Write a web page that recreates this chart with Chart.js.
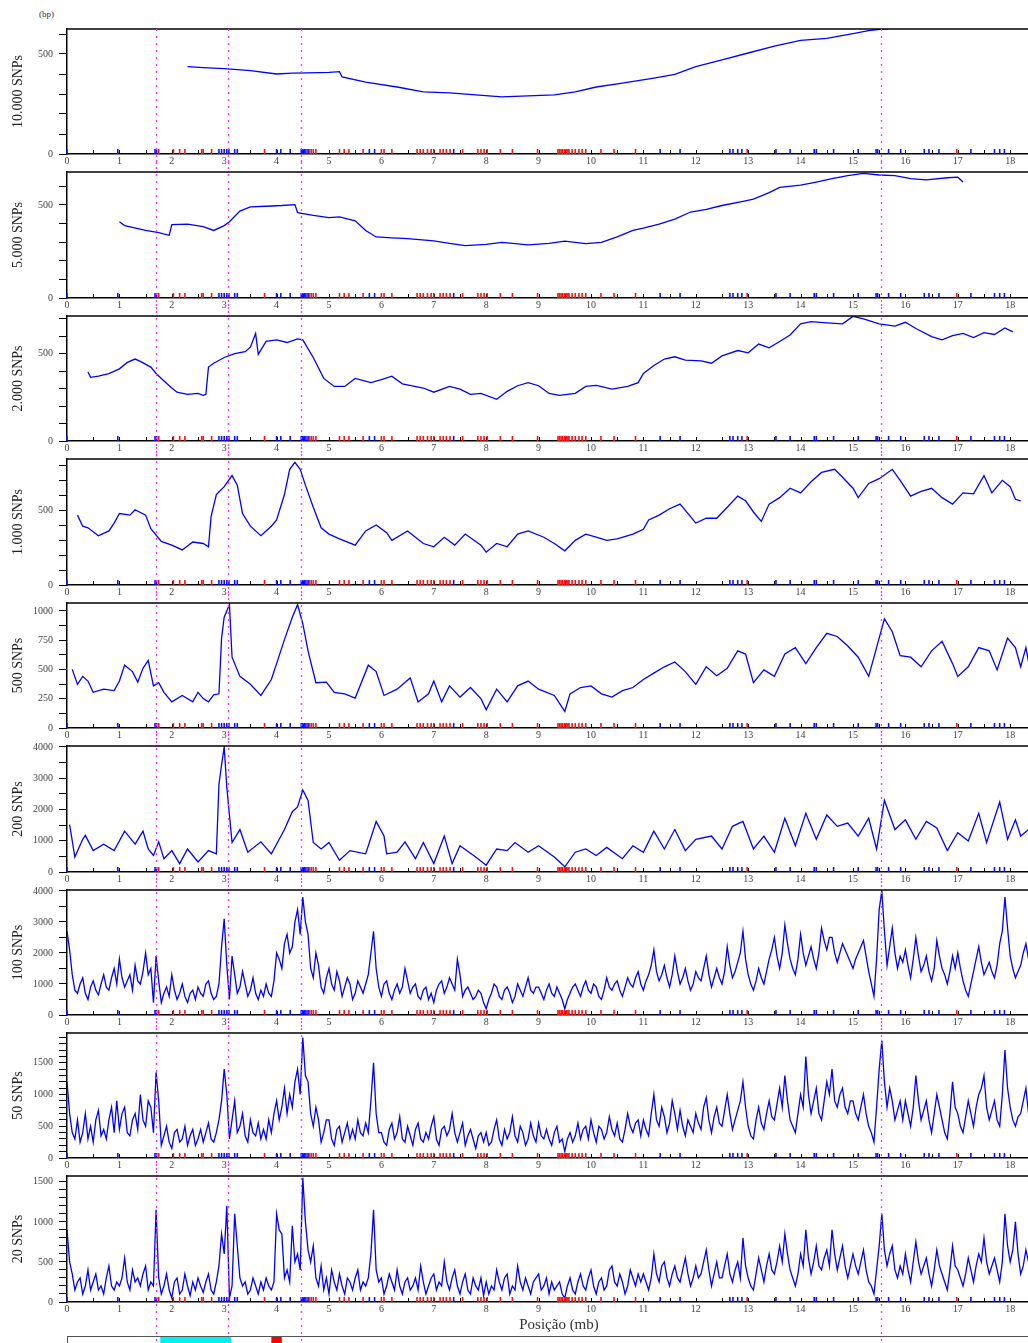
<!DOCTYPE html>
<html>
<head>
<meta charset="utf-8">
<script src="https://cdn.jsdelivr.net/npm/chart.js@4.4.1/dist/chart.umd.min.js"></script>
<style>
  body { margin: 0; background: #fff; width: 1028px; height: 1343px; position: relative; overflow: hidden; }
  .panel { position: absolute; left: 0; width: 1028px; }
  #bp { position: absolute; left: 39px; top: 9px; font: 9px 'Liberation Serif', serif; color: #333; }
</style>
</head>
<body>
<div id="bp">(bp)</div>
<script>
// positions along the chromosome are in mb, values in bp
const panelTitles = ['10.000 SNPs', '5.000 SNPs', '2.000 SNPs', '1.000 SNPs', '500 SNPs', '200 SNPs', '100 SNPs', '50 SNPs', '20 SNPs']
const yMax = [625, 677, 717, 844, 1068, 4030, 4030, 1970, 1573]
const yMinorStep = [100, 100, 100, 100, 125, 500, 500, 100, 100]
const yLabelStep = [500, 500, 500, 500, 250, 1000, 1000, 500, 500]

const xTicks = [0, 1, 2, 3, 4, 5, 6, 7, 8, 9, 10, 11, 12, 13, 14, 15, 16, 17, 18]
const magentaLines = [1.7, 3.08, 4.47, 15.53]
const blueMarks = [0.0, 0.97, 1.68, 1.71, 2.9, 2.95, 3.0, 3.05, 3.09, 3.2, 3.25, 4.0, 4.08, 4.26, 4.47, 4.5, 4.53, 4.56, 4.6,
  5.77, 5.87, 7.38, 11.32, 11.7, 12.65, 12.71, 12.8, 12.88, 13.53, 13.8, 14.26, 14.3, 14.63, 15.1, 15.44, 15.47, 15.68,
  15.91, 16.36, 16.45, 16.64, 17.25, 17.7, 17.8, 17.89]
const redMarks = [1.75, 2.03, 2.15, 2.25, 2.57, 2.6, 2.76, 3.77, 4.62, 4.66, 4.7, 4.75, 5.2, 5.29, 5.38, 5.65, 6.0, 6.05,
  6.2, 6.68, 6.74, 6.8, 6.88, 6.95, 7.0, 7.12, 7.18, 7.24, 7.31, 7.55, 7.84, 7.9, 7.96, 8.02, 8.27, 8.5, 8.98, 9.37, 9.4,
  9.43, 9.46, 9.5, 9.53, 9.56, 9.58, 9.64, 9.7, 9.77, 9.83, 9.9, 10.19, 10.44, 10.85, 12.98, 16.98]
const cyanBand = [1.78, 3.13]
const redBand = [3.9, 4.1]

// windows of 10.000 .. 200 SNPs: [position, bp]
const bp10000 = [[2.3,437],[2.6,432],[3.0,427],[3.5,417],[4.0,400],[4.3,404],[4.6,406],[5.0,408],[5.2,412],[5.25,385],
  [5.7,359],[6.3,335],[6.8,311],[7.3,306],[7.8,296],[8.3,286],[8.8,291],[9.3,296],[9.7,311],[10.1,335],[10.6,354],
  [11.2,379],[11.6,398],[12.0,437],[12.5,471],[13.0,505],[13.5,539],[14.0,568],[14.5,578],[15.0,602],[15.3,617],
  [15.6,626],[15.67,626]]
const bp5000 = [[1.0,410],[1.1,389],[1.5,363],[1.75,351],[1.95,337],[2.0,394],[2.3,397],[2.6,384],[2.8,363],[3.0,389],
  [3.1,410],[3.3,467],[3.5,490],[3.8,493],[4.1,497],[4.35,502],[4.4,458],[4.7,444],[5.0,432],[5.2,436],[5.5,415],
  [5.7,363],[5.9,328],[6.2,323],[6.5,319],[7.0,307],[7.3,293],[7.6,281],[8.0,288],[8.3,299],[8.8,285],[9.2,293],
  [9.5,306],[9.9,292],[10.2,299],[10.5,328],[10.8,363],[11.0,375],[11.3,397],[11.6,424],[11.9,462],[12.2,476],
  [12.5,497],[12.9,519],[13.1,531],[13.4,566],[13.6,594],[14.0,606],[14.3,623],[14.6,641],[14.9,658],[15.2,670],
  [15.5,661],[15.8,658],[16.1,641],[16.4,635],[16.8,646],[17.0,649],[17.1,623]]
const bp2000 = [[0.4,396],[0.45,365],[0.6,372],[0.8,387],[1.0,414],[1.15,451],[1.3,470],[1.4,457],[1.6,424],[1.7,387],
  [1.8,359],[2.0,304],[2.1,280],[2.3,267],[2.5,273],[2.6,262],[2.65,267],[2.7,424],[2.8,446],[3.0,479],[3.2,501],
  [3.4,512],[3.5,538],[3.6,617],[3.65,497],[3.8,571],[4.0,580],[4.2,565],[4.4,586],[4.5,580],[4.7,479],[4.9,359],
  [5.1,313],[5.3,313],[5.5,359],[5.8,335],[6.0,352],[6.2,372],[6.4,328],[6.8,304],[7.0,280],[7.3,313],[7.5,298],
  [7.7,267],[7.9,273],[8.2,239],[8.4,285],[8.6,317],[8.8,335],[9.0,317],[9.2,273],[9.4,262],[9.7,273],[9.9,313],
  [10.1,319],[10.4,298],[10.7,313],[10.9,335],[11.0,387],[11.2,433],[11.4,470],[11.6,483],[11.8,464],[12.1,460],
  [12.3,446],[12.5,488],[12.8,519],[13.0,506],[13.2,556],[13.4,534],[13.6,571],[13.8,608],[14.0,672],[14.2,685],
  [14.5,678],[14.8,672],[15.0,715],[15.2,700],[15.5,672],[15.8,659],[16.0,681],[16.2,645],[16.5,599],[16.7,580],
  [16.9,604],[17.1,617],[17.3,593],[17.5,622],[17.7,611],[17.9,648],[18.05,626]]
const bp1000 = [[0.2,468],[0.3,394],[0.4,383],[0.6,330],[0.8,362],[0.9,415],[1.0,479],[1.2,468],[1.3,504],[1.5,468],
  [1.6,377],[1.8,292],[2.0,267],[2.2,235],[2.4,288],[2.6,278],[2.7,256],[2.75,458],[2.85,606],[3.0,659],[3.15,733],
  [3.25,669],[3.35,479],[3.5,394],[3.7,330],[3.9,394],[4.0,436],[4.15,606],[4.25,775],[4.35,822],[4.45,775],[4.55,669],
  [4.7,521],[4.85,383],[5.0,341],[5.2,309],[5.5,267],[5.7,362],[5.9,402],[6.1,351],[6.2,299],[6.5,362],[6.8,278],
  [7.0,256],[7.2,320],[7.4,267],[7.6,341],[7.9,267],[8.0,220],[8.2,278],[8.4,256],[8.6,341],[8.8,362],[9.1,320],
  [9.3,278],[9.5,229],[9.7,299],[9.9,341],[10.1,320],[10.3,299],[10.5,309],[10.8,341],[11.0,373],[11.1,436],
  [11.3,468],[11.5,511],[11.7,542],[11.9,458],[12.0,415],[12.2,447],[12.4,447],[12.6,521],[12.8,595],[12.95,564],
  [13.1,489],[13.25,426],[13.4,542],[13.6,585],[13.8,648],[14.0,617],[14.2,691],[14.4,754],[14.65,775],[14.8,722],
  [15.0,648],[15.1,585],[15.3,680],[15.5,712],[15.75,775],[15.9,701],[16.1,595],[16.3,627],[16.5,648],[16.7,585],
  [16.9,542],[17.1,617],[17.3,610],[17.5,733],[17.65,617],[17.85,701],[18.0,659],[18.1,574],[18.2,564]]
const bp500 = [[0.1,501],[0.2,373],[0.3,441],[0.4,401],[0.5,305],[0.7,332],[0.9,319],[1.0,401],[1.1,537],[1.25,482],
  [1.35,392],[1.45,510],[1.55,578],[1.65,360],[1.75,387],[1.85,305],[2.0,223],[2.2,278],[2.4,223],[2.5,305],[2.6,251],
  [2.7,223],[2.8,283],[2.9,292],[2.95,768],[3.0,946],[3.1,1054],[3.15,605],[3.3,441],[3.5,373],[3.7,278],[3.9,414],
  [4.0,550],[4.15,755],[4.3,946],[4.4,1054],[4.5,891],[4.6,659],[4.75,387],[4.95,392],[5.1,305],[5.3,292],[5.5,256],
  [5.75,537],[5.9,482],[6.05,278],[6.3,332],[6.55,428],[6.7,223],[6.9,292],[7.0,401],[7.15,223],[7.3,360],[7.5,264],
  [7.7,346],[7.9,251],[8.0,155],[8.2,332],[8.4,223],[8.6,360],[8.8,401],[9.0,332],[9.3,278],[9.5,142],[9.6,292],
  [9.8,346],[10.0,360],[10.2,292],[10.4,264],[10.6,319],[10.8,346],[11.0,414],[11.2,469],[11.4,523],[11.6,564],
  [11.8,482],[12.0,373],[12.2,523],[12.4,447],[12.6,510],[12.8,659],[12.95,632],[13.1,387],[13.3,496],[13.5,441],
  [13.7,632],[13.9,687],[14.1,550],[14.3,687],[14.5,809],[14.7,782],[14.9,700],[15.1,605],[15.3,441],[15.45,687],
  [15.6,932],[15.75,823],[15.9,618],[16.1,605],[16.3,523],[16.5,659],[16.7,741],[16.9,550],[17.0,441],[17.2,523],
  [17.4,687],[17.6,659],[17.75,496],[17.95,768],[18.1,687],[18.2,523],[18.3,687],[18.35,564]]
const bp200 = [[0.05,1513],[0.15,477],[0.3,1047],[0.35,1171],[0.5,684],[0.7,891],[0.9,684],[1.1,1306],[1.3,891],
  [1.45,1306],[1.55,736],[1.65,528],[1.75,964],[1.85,425],[2.0,684],[2.15,269],[2.3,736],[2.5,321],[2.7,684],[2.85,580],
  [2.9,2808],[2.95,3430],[3.0,4000],[3.05,2705],[3.15,943],[3.3,1358],[3.45,632],[3.7,964],[3.9,580],[4.05,1047],
  [4.15,1358],[4.3,1927],[4.4,2083],[4.5,2622],[4.6,2290],[4.7,943],[4.85,736],[5.0,943],[5.2,373],[5.4,684],[5.7,580],
  [5.9,1617],[6.05,1150],[6.1,580],[6.3,632],[6.45,964],[6.65,425],[6.8,943],[7.0,269],[7.2,1150],[7.35,269],[7.5,839],
  [7.8,477],[8.0,218],[8.2,736],[8.4,684],[8.55,943],[8.8,632],[9.0,839],[9.3,477],[9.5,166],[9.7,632],[9.9,736],
  [10.1,528],[10.3,788],[10.6,425],[10.8,839],[11.0,632],[11.2,1306],[11.4,736],[11.6,1358],[11.8,684],[12.0,1047],
  [12.3,1150],[12.5,736],[12.7,1461],[12.9,1617],[13.1,736],[13.3,1150],[13.5,632],[13.7,1720],[13.9,839],[14.1,1876],
  [14.3,1047],[14.5,1824],[14.7,1461],[14.9,1565],[15.1,1150],[15.3,1720],[15.45,736],[15.6,2290],[15.8,1358],
  [16.0,1668],[16.2,1047],[16.4,1617],[16.6,1409],[16.8,684],[17.0,1254],[17.2,995],[17.4,1876],[17.55,943],
  [17.8,2238],[17.95,1047],[18.1,1668],[18.2,1150],[18.35,1358]]

// windows of 100, 50 and 20 SNPs: one value every 0.05 mb from 0 (one row per mb)
const stepMb = 0.05
const bp100 = [
  2700,2100,1300,800,700,1000,1200,700,500,900,1100,800,650,1000,1300,900,800,1200,1500,1000,
  1800,1200,900,1100,1300,800,1600,1100,1000,1400,2000,1300,1500,400,1900,1100,400,700,900,600,
  1300,800,500,700,1000,600,400,700,800,500,900,700,600,1000,1100,700,500,600,1000,2200,
  3100,1600,500,1900,1300,700,900,1400,1000,600,800,1200,700,500,800,600,1000,700,600,1100,
  2000,1800,1500,2300,2600,2000,2200,3000,3400,2600,3800,3000,2600,1500,1200,2000,1600,900,700,1200,
  1500,1000,800,1400,1100,600,900,1200,1000,500,700,1100,900,700,1000,1300,2000,2700,1500,900,
  600,1000,1100,700,500,800,1000,700,900,1500,1100,700,900,1000,600,500,800,900,500,700,
  400,800,1000,1100,700,900,1200,1000,800,1800,1300,600,800,900,700,500,600,800,700,400,
  200,500,700,1000,900,600,500,800,900,700,400,600,1000,800,600,900,1200,800,700,900,
  900,700,500,800,1000,700,600,900,700,500,200,500,700,900,1000,800,600,900,1100,800,
  700,1000,900,600,500,800,1200,900,800,1000,1100,800,600,900,1200,1000,900,1200,1400,1000,
  800,1100,1300,1600,2100,1400,1100,1300,1600,1200,900,1300,1900,1400,1000,1200,1500,1100,800,1000,
  1400,1200,1100,1500,1900,1300,900,1200,1500,1200,1000,1400,2200,1600,1200,1400,1700,2000,2700,1800,
  1300,1000,800,1100,1500,1200,1000,1400,1800,2100,2500,1900,1500,2000,2900,2300,1800,1500,1300,1800,
  2600,2000,1600,1900,2200,1800,1500,2000,2800,2400,2100,2500,2500,2000,1700,2000,2300,2100,1900,1700,
  1500,1800,2000,2200,2400,1900,1400,1000,600,1800,3400,4000,2700,1600,2200,2800,2000,1500,1900,1700,
  2100,1600,1200,1800,2500,1900,1400,1600,1900,1400,1100,1500,2400,1900,1500,1300,1000,1400,1900,1500,
  2000,1500,1100,800,600,1000,1400,1800,2200,1700,1300,1500,1700,1400,1200,1600,2300,2700,3800,2800,
  1900,1500,1200,1400,1600,2000,2300,1800]
const bp50 = [
  1200,700,400,300,600,250,400,700,300,500,250,600,750,350,450,300,600,800,400,900,
  450,700,800,400,350,600,700,450,1000,600,500,900,800,400,1350,900,200,350,500,250,
  150,400,450,250,300,500,200,350,450,200,300,450,250,400,550,300,250,400,600,900,
  1400,1000,300,600,900,400,500,700,350,250,600,400,350,550,300,450,300,600,400,700,
  900,600,800,1100,700,1000,800,1200,1400,1000,1900,1300,1200,700,500,800,600,250,400,600,
  600,300,200,450,500,250,400,550,300,450,300,600,400,350,550,400,900,1500,700,400,
  400,250,200,450,550,300,400,650,300,250,500,350,200,450,550,300,250,400,300,500,
  650,300,200,450,500,350,450,700,400,250,400,550,200,350,450,300,150,350,400,250,
  400,200,250,450,600,300,200,450,300,400,650,350,250,500,400,200,300,550,350,250,
  550,350,300,450,300,200,400,500,250,300,100,300,400,250,350,550,300,450,500,300,
  600,400,250,500,450,300,400,650,450,350,550,300,250,450,700,500,400,550,600,350,
  600,450,350,700,1000,600,500,800,650,400,550,900,700,450,750,500,350,600,500,400,
  700,550,450,800,950,600,400,650,800,550,500,750,1000,700,450,600,750,900,1200,800,
  500,350,300,600,800,550,450,700,900,650,600,850,1100,800,1300,900,600,500,400,700,
  1000,800,1600,1000,700,900,1100,700,600,900,1200,1000,1400,900,800,1000,1100,800,700,900,
  900,700,600,800,1000,700,500,400,250,800,1400,1850,1200,800,1100,900,600,750,900,600,
  900,700,500,800,1300,900,600,750,900,600,400,700,1000,800,600,400,300,700,1200,800,
  700,500,400,650,900,700,500,800,1000,1100,1300,800,600,750,900,600,500,1000,1700,1100,
  800,600,500,650,700,900,1100,700]
const bp20 = [
  900,500,350,150,250,300,100,200,400,150,250,350,150,200,100,300,450,200,150,250,
  200,300,550,250,150,400,250,300,200,350,450,150,250,200,1150,300,100,200,350,150,
  50,250,300,100,150,350,200,80,250,150,300,200,120,250,350,150,100,250,450,850,
  600,1200,50,200,1100,700,300,200,250,100,150,300,200,100,250,150,300,200,150,250,
  1100,900,850,300,400,250,950,500,600,400,1550,1000,650,500,700,300,200,450,150,300,
  100,400,250,150,350,200,100,300,250,150,300,400,150,250,200,300,600,1150,400,250,
  300,100,200,350,250,150,400,200,100,250,300,150,200,300,150,450,250,100,200,300,
  350,150,250,200,500,250,150,300,400,200,100,250,350,150,100,300,200,150,300,80,
  250,100,200,150,400,250,150,300,350,100,200,150,450,250,150,300,200,100,250,300,
  350,150,200,300,100,250,150,200,250,100,50,200,300,150,100,250,350,200,150,300,
  400,200,100,250,300,150,200,400,450,250,200,350,250,100,200,400,300,200,350,250,
  350,250,150,300,600,350,250,450,500,300,200,350,450,300,250,400,550,350,200,300,
  450,300,350,500,650,400,200,350,500,300,300,450,600,350,250,400,500,300,800,450,
  300,200,150,350,550,400,250,450,600,400,350,500,700,500,850,600,400,300,200,350,
  600,450,900,550,350,500,700,450,400,550,650,450,900,600,400,550,700,450,300,450,
  600,450,350,500,650,400,250,200,100,400,700,1100,650,450,600,700,400,300,450,350,
  600,400,250,500,750,500,350,450,550,350,200,400,650,450,350,250,150,400,700,450,
  400,300,200,350,550,400,250,450,600,500,800,500,350,450,550,400,250,500,1100,700,
  500,650,1000,600,350,450,650,500]

const pairSeries = [bp10000, bp5000, bp2000, bp1000, bp500, bp200]
const stepSeries = [bp100, bp50, bp20]

// layout of the nine stacked plot areas (pixels)
const plotTop = [25, 168, 312, 455, 599, 742, 886, 1029, 1172]
const plotBottom = [154, 298, 441, 585, 728, 872, 1015, 1158, 1302]
const axisLeft = 67
const padTop = 8

Chart.defaults.font.family = "'Liberation Serif', 'Times New Roman', serif"
Chart.defaults.color = '#444'

function vline(ctx, x, y0, y1) {
  ctx.beginPath()
  ctx.moveTo(x, y0)
  ctx.lineTo(x, y1)
  ctx.stroke()
}

const overlay = {
  id: 'overlay',
  afterDatasetsDraw(chart, args, opts) {
    const { ctx, chartArea: a, scales: { x } } = chart
    ctx.save()
    // top frame line
    ctx.strokeStyle = '#000'
    ctx.lineWidth = 1.5
    ctx.beginPath()
    ctx.moveTo(a.left, a.top)
    ctx.lineTo(a.right, a.top)
    ctx.stroke()
    // small inward ticks every 0.5 mb
    ctx.lineWidth = 1
    for (let i = 1; i * 0.5 < x.max; i++) {
      vline(ctx, Math.round(x.getPixelForValue(i * 0.5)) + 0.5, a.bottom, a.bottom - 4)
    }
    // SNP markers along the axis
    ctx.lineWidth = 1.6
    ctx.strokeStyle = '#ff1010'
    redMarks.forEach(m => vline(ctx, x.getPixelForValue(m), a.bottom, a.bottom - 5))
    ctx.strokeStyle = '#1010ff'
    blueMarks.forEach(m => vline(ctx, x.getPixelForValue(m), a.bottom, a.bottom - 5))
    // dotted magenta guides through every panel
    ctx.strokeStyle = '#ff30ff'
    ctx.lineWidth = 1.3
    ctx.setLineDash([2, 5])
    magentaLines.forEach(m => vline(ctx, Math.round(x.getPixelForValue(m)) + 0.5, opts.first ? a.top : 0, chart.height))
    ctx.setLineDash([])
    if (opts.last) {
      ctx.fillStyle = '#333'
      ctx.font = "15px 'Liberation Serif', serif"
      ctx.textAlign = 'center'
      ctx.textBaseline = 'middle'
      ctx.fillText('Posição (mb)', 559, a.bottom + 23)
      // chromosome sketch
      const by = a.bottom + 34
      const c0 = x.getPixelForValue(cyanBand[0]), c1 = x.getPixelForValue(cyanBand[1])
      const r0 = x.getPixelForValue(redBand[0]), r1 = x.getPixelForValue(redBand[1])
      ctx.fillStyle = '#00f0f0'
      ctx.fillRect(c0, by, c1 - c0, 12)
      ctx.fillStyle = '#ff0000'
      ctx.fillRect(r0, by + 1, r1 - r0, 12)
      ctx.strokeStyle = '#555'
      ctx.lineWidth = 1
      ctx.strokeRect(a.left + 0.5, by + 0.5, 1040, 14)
    }
    ctx.restore()
  }
}

panelTitles.forEach((title, i) => {
  const last = i === panelTitles.length - 1
  const div = document.createElement('div')
  div.className = 'panel'
  div.style.zIndex = 20 - i
  const top = plotTop[i] - padTop
  const xAxisH = last ? 1343 - plotBottom[i] : 14
  const h = plotBottom[i] - plotTop[i] + padTop + xAxisH
  div.style.top = top + 'px'
  div.style.height = h + 'px'
  const canvas = document.createElement('canvas')
  div.appendChild(canvas)
  document.body.appendChild(div)

  let points
  if (i < pairSeries.length) {
    points = pairSeries[i].map(([x, y]) => ({ x, y }))
  } else {
    points = stepSeries[i - pairSeries.length].map((y, k) => ({ x: k * stepMb, y }))
  }

  // tick marks every minor step, labels only on the major ones
  const yTickValues = []
  for (let v = 0; v <= yMax[i]; v += yMinorStep[i]) yTickValues.push(v)

  new Chart(canvas, {
    type: 'line',
    data: {
      datasets: [{
        label: title,
        data: points,
        borderColor: '#0000ff',
        borderWidth: 1.3,
        pointRadius: 0,
        tension: 0
      }]
    },
    options: {
      responsive: true,
      maintainAspectRatio: false,
      animation: false,
      events: [],
      layout: { padding: { top: padTop, right: 0, left: 0, bottom: 0 } },
      plugins: {
        legend: { display: false },
        tooltip: { enabled: false },
        overlay: { first: i === 0, last }
      },
      scales: {
        x: {
          type: 'linear',
          min: 0,
          max: 18.34,
          afterFit: s => { s.height = xAxisH },
          afterBuildTicks: s => { s.ticks = xTicks.map(v => ({ value: v })) },
          ticks: { font: { size: 10 }, padding: 1, maxRotation: 0, autoSkip: false, includeBounds: false },
          grid: { display: false, drawTicks: false, tickLength: 0 },
          border: { display: true, color: '#000', width: 1.5 }
        },
        y: {
          type: 'linear',
          min: 0,
          max: yMax[i],
          afterFit: s => { s.width = axisLeft },
          afterBuildTicks: s => { s.ticks = yTickValues.map(v => ({ value: v })) },
          ticks: {
            autoSkip: false,
            padding: 6,
            font: { size: 10 },
            callback: v => (v % yLabelStep[i] === 0 ? String(v) : '')
          },
          grid: { drawOnChartArea: false, drawTicks: true, tickLength: 8, color: '#000', lineWidth: 1 },
          border: { display: true, color: '#000', width: 1.5 },
          title: { display: true, text: title, color: '#222', font: { size: 14 }, padding: { top: 10, bottom: 0 } }
        }
      }
    },
    plugins: [overlay]
  })
})
</script>
</body>
</html>
